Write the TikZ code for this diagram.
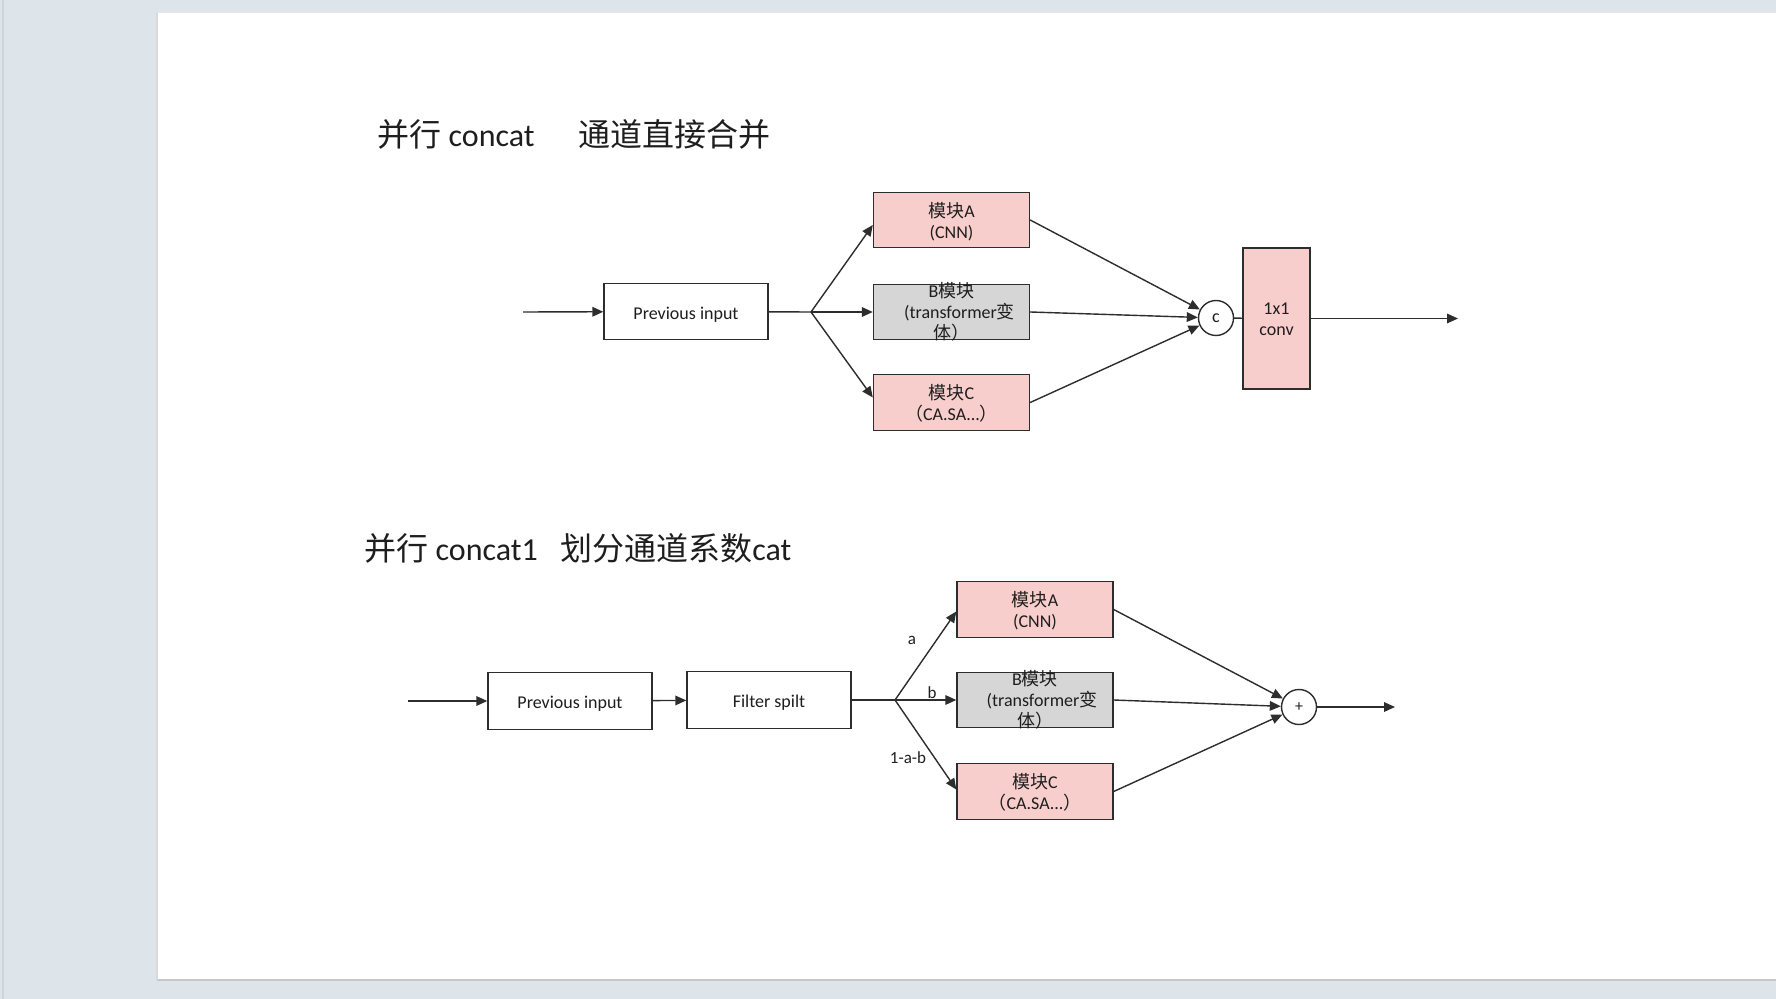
\documentclass[tikz,border=0pt]{standalone}
\usepackage{fontspec}
\setmainfont{Carlito}
\newfontfamily\cjk{Noto Sans CJK SC}
\usetikzlibrary{arrows.meta}
\definecolor{bgc}{RGB}{221,229,235}
\definecolor{pinkf}{RGB}{248,206,204}
\definecolor{greyf}{RGB}{214,214,214}
\definecolor{lnc}{RGB}{45,45,45}
\definecolor{txc}{RGB}{30,30,30}
\newcommand{\lowr}[2]{\raisebox{-#1}[\height][\depth]{#2}}
\begin{document}
\begin{tikzpicture}[x=0.5pt,y=-0.5pt,
  blk/.style={draw=lnc,line width=0.7pt,inner sep=0pt,align=center,
    font=\fontsize{9}{10.5}\selectfont,text=txc},
  whitebox/.style={blk,fill=white,minimum width=82pt,minimum height=28.25pt},
  pinkbox/.style={blk,fill=pinkf,minimum width=78pt,minimum height=27.75pt},
  greybox/.style={blk,fill=greyf,minimum width=78pt,minimum height=27.75pt},
  junc/.style={circle,draw=lnc,line width=0.7pt,fill=white,minimum size=17.5pt,
    inner sep=0pt,font=\fontsize{9}{10}\selectfont,text=txc},
  intext/.style={align=center,inner sep=0pt,font=\fontsize{9}{10.5}\selectfont,text=txc},
  lbl/.style={inner sep=0pt,font=\fontsize{8.5}{10}\selectfont,text=txc},
  ttl/.style={inner sep=0pt,anchor=west,font=\fontsize{16}{19}\selectfont,text=txc},
  conn/.style={draw=lnc,line width=0.7pt},
  arr/.style={conn,-{Triangle[length=5.5pt,width=4.8pt]}}
]
\useasboundingbox (0,0) rectangle (1776,999);
% background and page
\fill[bgc] (0,0) rectangle (1776,999);
\draw[bgc!85!gray,line width=0.6pt] (3,0) -- (3,999);
\fill[white] (157,12) rectangle (1776,980);
\draw[gray!45,line width=0.8pt] (157,980) -- (1776,980);
\draw[gray!30,line width=0.8pt] (157,12) -- (157,980);
\draw[gray!20,line width=0.6pt] (157,12) -- (1776,12);

% ---------- top diagram ----------
\node[ttl] (t1a) at (377,134) {{\cjk 并行} concat};
\node[ttl] (t1b) at (578,134) {{\cjk 通道直接合并}};

\coordinate (in1) at (523,312);
\node[whitebox] (p1) at (686,311.5) {\lowr{1.5pt}{Previous input}};
\coordinate (br1) at (811,312);
\node[pinkbox] (A1) at (951.5,220) {};
\node[intext,yshift=-0.6pt] at (A1) {{\cjk 模块}A\\(CNN)};
\node[greybox] (B1) at (951.5,312) {};
\node[intext] at (B1) {B{\cjk 模块}\\\hspace{8pt}(transformer{\cjk 变}\\{\cjk 体）}};
\node[pinkbox] (C1) at (951.5,402.5) {};
\node[intext,yshift=-0.6pt] at (C1) {{\cjk 模块}C\\{\cjk （}CA.SA...{\cjk ）}};
\node[junc] (cc) at (1216,318) {c};
\node[blk,fill=pinkf,minimum width=33.5pt,minimum height=70.5pt] (conv) at (1276.5,318.5) {\lowr{0.6pt}{1x1}\\\lowr{0.6pt}{conv}};
\coordinate (out1) at (1458,318.5);

\draw[arr] (in1) -- (p1);
\draw[conn] (p1) -- (br1);
\draw[arr] (br1) -- ([yshift=-2.5pt]A1.west);
\draw[arr] (br1) -- (B1);
\draw[arr] (br1) -- ([yshift=2.5pt]C1.west);
\draw[arr] (A1.east) -- (cc);
\draw[arr] (B1.east) -- (cc);
\draw[arr] (C1.east) -- (cc);
\draw[conn] (cc) -- (conv);
\draw[arr] (conv.east) -- (out1);

% ---------- bottom diagram ----------
\node[ttl] (t2a) at (364,548) {{\cjk 并行} concat1};
\node[ttl] (t2b) at (560,548) {{\cjk 划分通道系数}cat};

\coordinate (in2) at (408,701);
\node[whitebox] (p2) at (570,701) {\lowr{1.5pt}{Previous input}};
\node[whitebox] (f2) at (769,700) {\lowr{1.5pt}{Filter spilt}};
\coordinate (br2) at (895,700);
\node[pinkbox] (A2) at (1035,609.5) {};
\node[intext,yshift=-0.6pt] at (A2) {{\cjk 模块}A\\(CNN)};
\node[greybox] (B2) at (1035,700) {};
\node[intext] at (B2) {B{\cjk 模块}\\\hspace{7pt}(transformer{\cjk 变}\\{\cjk 体）}};
\node[pinkbox] (C2) at (1035,791.5) {};
\node[intext,yshift=-0.6pt] at (C2) {{\cjk 模块}C\\{\cjk （}CA.SA...{\cjk ）}};
\node[junc,font=\fontsize{8}{9}\selectfont] (pl) at (1299,707) {+};
\coordinate (out2) at (1395,707);

\node[lbl] (la) at (912,640) {a};
\node[lbl] (lb) at (932,693) {b};
\node[lbl] (lc) at (908,758) {1-a-b};

\draw[arr] (in2) -- (p2);
\draw[arr] (p2) -- (f2);
\draw[conn] (f2) -- (br2);
\draw[arr] (br2) -- ([yshift=-1pt]A2.west);
\draw[arr] (br2) -- (B2);
\draw[arr] (br2) -- ([yshift=1pt]C2.west);
\draw[arr] (A2.east) -- (pl);
\draw[arr] (B2.east) -- (pl);
\draw[arr] (C2.east) -- (pl);
\draw[arr] (pl) -- (out2);
\end{tikzpicture}
\end{document}
